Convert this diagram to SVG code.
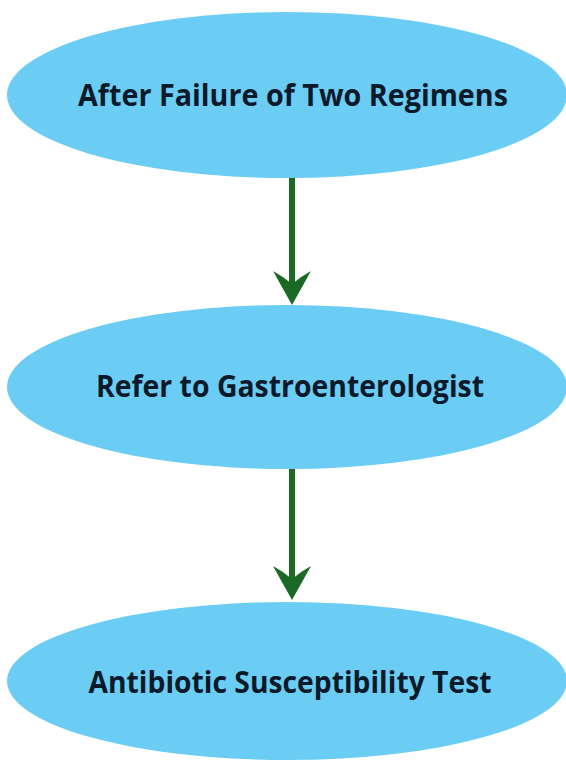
<svg xmlns="http://www.w3.org/2000/svg" width="566" height="760" viewBox="0 0 566 760">
<style>
.node{fill:#6CCDF4;}
.lbl{font-family:"Open Sans","Liberation Sans",sans-serif;font-weight:bold;font-size:30px;fill:#0B1A2A;text-anchor:middle;}
.edge{stroke:#1A6A26;stroke-width:6;fill:none;}
.head{fill:#1A6A26;}
</style>
<rect width="566" height="760" fill="#FFFFFF"/>
<g id="connectors">
<line class="edge" x1="292" y1="176" x2="292" y2="285"/>
<path class="head" d="M292,305 L273,271 Q284,277 292,284 Q300,277 311,271 Z"/>
<line class="edge" x1="292" y1="468" x2="292" y2="580"/>
<path class="head" d="M292,600 L273,566 Q284,572 292,579 Q300,572 311,566 Z"/>
</g>
<g id="n1">
<ellipse class="node" cx="287" cy="95" rx="280" ry="83"/>
<text class="lbl" x="293" y="106" textLength="430" lengthAdjust="spacingAndGlyphs">After Failure of Two Regimens</text>
</g>
<g id="n2">
<ellipse class="node" cx="287" cy="387" rx="280" ry="82"/>
<text class="lbl" x="290" y="397" textLength="388" lengthAdjust="spacingAndGlyphs">Refer to Gastroenterologist</text>
</g>
<g id="n3">
<ellipse class="node" cx="287" cy="681" rx="280" ry="79"/>
<text class="lbl" x="290" y="693" textLength="403" lengthAdjust="spacingAndGlyphs">Antibiotic Susceptibility Test</text>
</g>
</svg>
